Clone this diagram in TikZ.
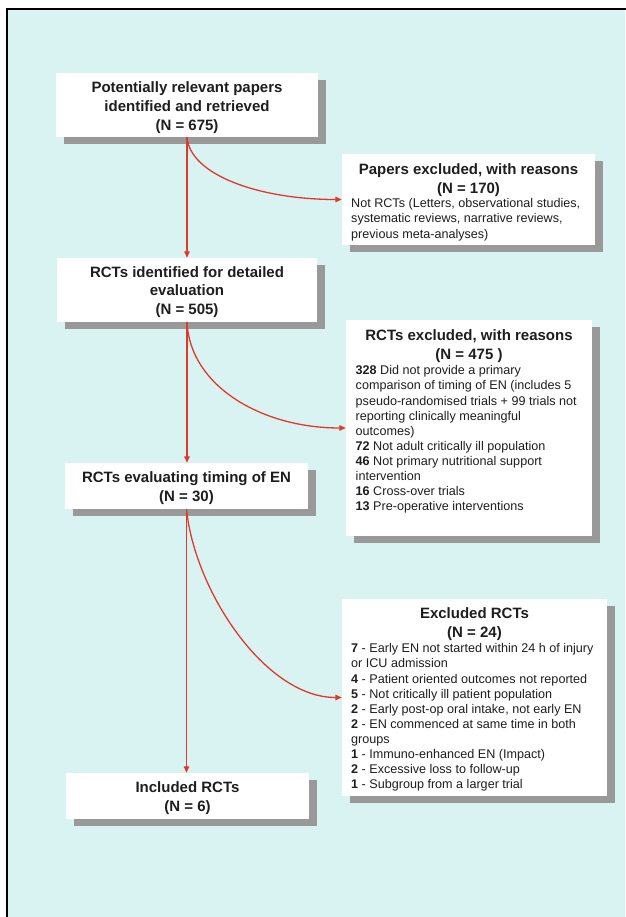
\documentclass[tikz,border=0pt]{standalone}
\usepackage{fontspec}
\setmainfont{Liberation Sans}
\usetikzlibrary{shadows,arrows.meta}
\definecolor{bgcyan}{HTML}{D9F3F2}
\definecolor{shadowgray}{HTML}{999999}
\definecolor{arrowred}{HTML}{E0392B}
\definecolor{txt}{HTML}{1E1E1E}
\begin{document}
\begin{tikzpicture}[x=1pt,y=-1pt,
  box/.style={fill=white, inner sep=0pt,
    drop shadow={shadow xshift=7.5pt, shadow yshift=-7pt, fill=shadowgray, opacity=1}},
  ttl/.style={inner sep=0pt, align=center, text=txt, font=\fontsize{15}{18.8}\selectfont\bfseries},
  body/.style={inner sep=0pt, anchor=north west, align=left, text=txt, font=\fontsize{12.6}{15.1}\selectfont},
  arr/.style={draw=arrowred, line width=1.3pt, -{Triangle[length=6.5pt,width=5.5pt]}}]
\useasboundingbox (0,0) rectangle (625,917);
\fill[white] (0,0) rectangle (625,917);
\fill[bgcyan] (7,9) rectangle (625,917);
\draw[line width=1.5pt, line cap=rect] (7,917) -- (7,9) -- (625,9);

% main column boxes
\node[box, minimum width=262pt, minimum height=64pt] (b1) at (187,105) {};
\node[ttl] (b1t) at (187,107.5) {Potentially relevant papers\\identified and retrieved\\(N = 675)};
\node[box, minimum width=260pt, minimum height=64pt] (b3) at (187,290) {};
\node[ttl] (b3t) at (187,292) {RCTs identified for detailed\\evaluation\\(N = 505)};
\node[box, minimum width=243pt, minimum height=46pt] (b5) at (186.5,486) {};
\node[ttl] (b5t) at (186.5,488) {RCTs evaluating timing of EN\\(N = 30)};
\node[box, minimum width=243pt, minimum height=46pt] (b7) at (187.5,796) {};
\node[ttl] (b7t) at (187.5,798) {Included RCTs\\(N = 6)};

% exclusion boxes
\node[box, minimum width=253pt, minimum height=91pt] (b2) at (468.5,199.5) {};
\node[ttl] (b2t) at (468.5,180) {Papers excluded, with reasons\\(N = 170)};
\node[body] (b2b) at (351,198.5) {Not RCTs (Letters, observational studies,\\
systematic reviews, narrative reviews,\\
previous meta-analyses)};

\node[box, minimum width=246pt, minimum height=216pt] (b4) at (469,428) {};
\node[ttl] (b4t) at (469,346.5) {RCTs excluded, with reasons\\(N = 475 )};
\node[body] (b4b) at (355.5,365.5) {\textbf{328} Did not provide a primary\\
comparison of timing of EN (includes 5\\
pseudo-randomised trials + 99 trials not\\
reporting clinically meaningful\\
outcomes)\\
\textbf{72} Not adult critically ill population\\
\textbf{46} Not primary nutritional support\\
intervention\\
\textbf{16} Cross-over trials\\
\textbf{13} Pre-operative interventions};

\node[box, minimum width=265pt, minimum height=197pt] (b6) at (474.5,697.5) {};
\node[ttl] (b6t) at (474.5,624.5) {Excluded RCTs\\(N = 24)};
\node[body] (b6b) at (351,643.5) {\textbf{7} - Early EN not started within 24 h of injury\\
or ICU admission\\
\textbf{4} - Patient oriented outcomes not reported\\
\textbf{5} - Not critically ill patient population\\
\textbf{2} - Early post-op oral intake, not early EN\\
\textbf{2} - EN commenced at same time in both\\
groups\\
\textbf{1} - Immuno-enhanced EN (Impact)\\
\textbf{2} - Excessive loss to follow-up\\
\textbf{1} - Subgroup from a larger trial};

% connectors
\draw[arr] (b1.south) -- (b1.south |- b3.north);
\draw[arr] (b1.south) .. controls +(3,38) and +(-82,0) .. (b2.west);
\draw[arr] (b3.south) -- (b3.south |- b5.north);
\draw[arr] (b3.south) .. controls +(3,64) and +(-84,0) .. (b4.west);
\draw[arr] (b5.south) -- (b5.south |- b7.north);
\draw[arr] (b5.south) .. controls +(8,81) and +(-77,0) .. (b6.west);
\end{tikzpicture}
\end{document}
